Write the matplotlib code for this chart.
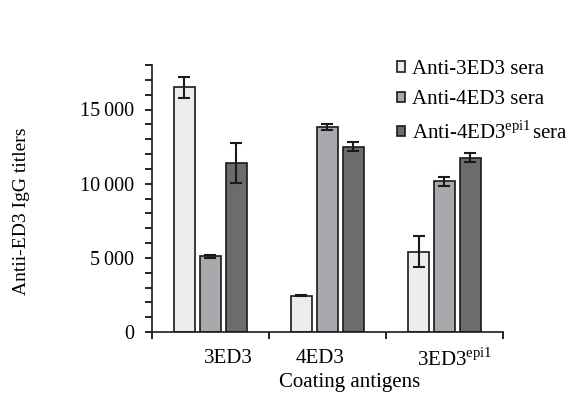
import numpy as np
import matplotlib
matplotlib.use("Agg")
from matplotlib import pyplot as plt
from matplotlib.ticker import MultipleLocator, FuncFormatter

plt.rcParams['font.family'] = ['Liberation Serif', 'DejaVu Serif']
plt.rcParams['mathtext.fontset'] = 'custom'
plt.rcParams['mathtext.rm'] = 'Liberation Serif'

antigens = ["3ED3", "4ED3", "3ED3$^{\\mathrm{epi1}}\\!$"]
series = ["Anti-3ED3 sera", "Anti-4ED3 sera", "Anti-4ED3$^{\\mathrm{epi1}}\\!$ sera"]
means = [
    [16500, 2450, 5400],
    [5100, 13800, 10150],
    [11400, 12500, 11750],
]
errs = [
    [700, 50, 1050],
    [100, 200, 300],
    [1350, 330, 300],
]
colors = ["#eeedec", "#a9a8ac", "#6c6c6d"]
label_pos = [0.65, 1.44, 2.59]

fig = plt.figure(figsize=(5.69, 4.0), dpi=100)
ax = fig.add_axes([0.267, 0.17, 0.617, 0.6675])

x = np.arange(len(antigens)) + 0.5
w = 0.18
step = 0.222
for i in range(3):
    ax.bar(x + (i - 1) * step, means[i], w, color=colors[i], edgecolor="#1a1a1a",
           linewidth=1.2, label=series[i], yerr=errs[i],
           error_kw=dict(ecolor="#1a1a1a", elinewidth=1.5, capsize=4, capthick=1.5))

ax.set_xlim(0, 3)
ax.set_ylim(0, 18000)
ax.spines["top"].set_visible(False)
ax.spines["right"].set_visible(False)
for s in ["left", "bottom"]:
    ax.spines[s].set_linewidth(1.2)
    ax.spines[s].set_color("#1a1a1a")

ax.set_xticks([0, 1, 2, 3])
ax.set_xticklabels([])
ax.set_xticks(label_pos, minor=True)
ax.set_xticklabels(antigens, minor=True, fontsize=15)
ax.tick_params(axis="x", which="major", direction="out", length=5, width=1.2)
ax.tick_params(axis="x", which="minor", length=0, pad=12)

ax.yaxis.set_major_locator(MultipleLocator(5000))
ax.yaxis.set_minor_locator(MultipleLocator(1000))
ax.yaxis.set_major_formatter(FuncFormatter(
    lambda v, p: "0" if v == 0 else f"{int(v):,}".replace(",", "\u2009")))
ax.tick_params(axis="y", which="both", direction="out", length=5, width=1.2,
               labelsize=14.5, pad=8)

fig.text(22 / 569, 1 - 211 / 400, "Antii-ED3 IgG titlers", rotation=90,
         ha="center", va="center", fontsize=14)
fig.text(350 / 569, 1 - 383 / 400, "Coating antigens", ha="center", va="center",
         fontsize=15)

ax.legend(loc="upper left", bbox_to_anchor=(397 / 569, 1 - 60 / 400),
          bbox_transform=fig.transFigure, frameon=False, fontsize=15,
          handlelength=0.4, handleheight=0.4, handletextpad=0.3,
          labelspacing=0.55, borderaxespad=0, borderpad=0)

fig.savefig("out.png", dpi=100)
